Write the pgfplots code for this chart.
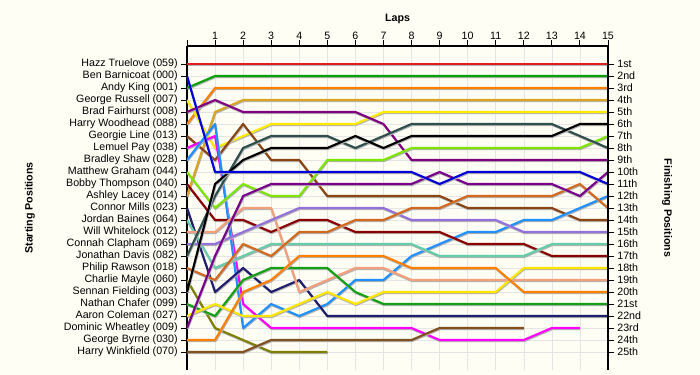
\documentclass[border=0pt]{standalone}
\usepackage{pgfplots}
\pgfplotsset{compat=1.18}
\usepackage{fontspec}
\setmainfont{Liberation Sans}
\definecolor{bg}{RGB}{254,254,244}
\definecolor{cRed}{RGB}{228,30,30}
\definecolor{cBlue}{RGB}{0,0,215}
\definecolor{cGreen}{RGB}{10,160,10}
\definecolor{cYellow}{RGB}{255,235,0}
\definecolor{cPurple}{RGB}{128,0,128}
\definecolor{cOrange}{RGB}{255,128,0}
\definecolor{cBrown}{RGB}{139,69,19}
\definecolor{cMagenta}{RGB}{255,0,255}
\definecolor{cDodger}{RGB}{30,144,255}
\definecolor{cLime}{RGB}{124,230,0}
\definecolor{cDarkRed}{RGB}{139,0,0}
\definecolor{cGold}{RGB}{218,165,32}
\definecolor{cNavy}{RGB}{30,30,110}
\definecolor{cAqua}{RGB}{102,205,170}
\definecolor{cSalmon}{RGB}{245,160,125}
\definecolor{cMPurple}{RGB}{147,112,219}
\definecolor{cSlate}{RGB}{47,79,79}
\definecolor{cChoc}{RGB}{210,105,30}
\definecolor{cOlive}{RGB}{128,128,0}
\definecolor{cBlack}{RGB}{0,0,0}
\definecolor{cGreenB}{RGB}{20,160,20}
\definecolor{cYellowB}{RGB}{255,230,0}
\definecolor{cViolet}{RGB}{120,0,140}
\definecolor{cDOrange}{RGB}{255,127,0}
\definecolor{cBrownB}{RGB}{128,80,30}
\begin{document}
\begin{tikzpicture}[font=\fontsize{8}{9.6}\selectfont]
\path[use as bounding box, fill=bg] (-140.25pt,-3.75pt) rectangle (384.75pt,277.5pt);
\node[font=\fontsize{8}{9.6}\selectfont\bfseries] at (157.9pt,263pt) {Laps};
\node[font=\fontsize{8}{9.6}\selectfont\bfseries, rotate=90] at (-117.75pt,121.5pt) {Starting Positions};
\node[font=\fontsize{8}{9.6}\selectfont\bfseries, rotate=-90] at (360pt,121.5pt) {Finishing Positions};
\begin{axis}[
  at={(0,0)}, anchor=south west,
  scale only axis, width=315.75pt, height=243pt,
  xmin=0, xmax=15, ymin=-0.5, ymax=26.5, y dir=reverse,
  axis x line*=top, axis y line*=left,
  axis line style={-, line width=0.9pt},
  xtick={0,...,15}, xticklabels={,1,2,3,4,5,6,7,8,9,10,11,12,13,14,15},
  ytick={1,...,25},
  yticklabels={Hazz Truelove (059),Ben Barnicoat (000),Andy King (001),George Russell (007),Brad Fairhurst (008),Harry Woodhead (088),Georgie Line (013),Lemuel Pay (038),Bradley Shaw (028),Matthew Graham (044),Bobby Thompson (040),Ashley Lacey (014),Connor Mills (023),Jordan Baines (064),Will Whitelock (012),Connah Clapham (069),Jonathan Davis (082),Philip Rawson (018),Charlie Mayle (060),Sennan Fielding (003),Nathan Chafer (099),Aaron Coleman (027),Dominic Wheatley (009),George Byrne (030),Harry Winkfield (070)},
  tick align=outside, major tick length=4.5pt,
  tick style={black, line width=0.7pt},
  ticklabel style={font=\fontsize{8}{9.6}\selectfont},
  xticklabel style={yshift=-3.5pt},
  yticklabel style={xshift=1pt},
  grid=major, grid style={black!10, line width=0.4pt},
  no markers,
  every axis plot/.append style={line width=1.6pt, line join=round,
    preaction={draw=black!30, line width=1.6pt, transform canvas={xshift=0.4pt,yshift=-0.8pt}}},
]
\addplot[cRed] coordinates {(0,1)(1,1)(2,1)(3,1)(4,1)(5,1)(6,1)(7,1)(8,1)(9,1)(10,1)(11,1)(12,1)(13,1)(14,1)(15,1)};
\addplot[cGreen] coordinates {(0,3)(1,2)(2,2)(3,2)(4,2)(5,2)(6,2)(7,2)(8,2)(9,2)(10,2)(11,2)(12,2)(13,2)(14,2)(15,2)};
\addplot[cOrange] coordinates {(0,6)(1,3)(2,3)(3,3)(4,3)(5,3)(6,3)(7,3)(8,3)(9,3)(10,3)(11,3)(12,3)(13,3)(14,3)(15,3)};
\addplot[cGold] coordinates {(0,12)(1,5)(2,4)(3,4)(4,4)(5,4)(6,4)(7,4)(8,4)(9,4)(10,4)(11,4)(12,4)(13,4)(14,4)(15,4)};
\addplot[cYellow] coordinates {(0,4)(1,8)(2,7)(3,6)(4,6)(5,6)(6,6)(7,5)(8,5)(9,5)(10,5)(11,5)(12,5)(13,5)(14,5)(15,5)};
\addplot[cPurple] coordinates {(0,5)(1,4)(2,5)(3,5)(4,5)(5,5)(6,5)(7,6)(8,9)(9,9)(10,9)(11,9)(12,9)(13,9)(14,9)(15,9)};
\addplot[cBrown] coordinates {(0,7)(1,9)(2,6)(3,9)(4,9)(5,12)(6,12)(7,12)(8,12)(9,12)(10,13)(11,13)(12,13)(13,13)(14,14)(15,14)};
\addplot[cMagenta] coordinates {(0,8)(1,7)(2,21)(3,23)(4,23)(5,23)(6,23)(7,23)(8,23)(9,24)(10,24)(11,24)(12,24)(13,23)(14,23)};
\addplot[cDodger] coordinates {(0,9)(1,6)(2,23)(3,21)(4,22)(5,21)(6,19)(7,19)(8,17)(9,16)(10,15)(11,15)(12,14)(13,14)(14,13)(15,12)};
\addplot[cLime] coordinates {(0,10)(1,13)(2,11)(3,12)(4,12)(5,9)(6,9)(7,9)(8,8)(9,8)(10,8)(11,8)(12,8)(13,8)(14,8)(15,7)};
\addplot[cDarkRed] coordinates {(0,11)(1,14)(2,14)(3,15)(4,14)(5,14)(6,15)(7,15)(8,15)(9,15)(10,16)(11,16)(12,16)(13,17)(14,17)(15,17)};
\addplot[cNavy] coordinates {(0,13)(1,20)(2,18)(3,20)(4,19)(5,22)(6,22)(7,22)(8,22)(9,22)(10,22)(11,22)(12,22)(13,22)(14,22)(15,22)};
\addplot[cAqua] coordinates {(0,14)(1,18)(2,17)(3,16)(4,16)(5,16)(6,16)(7,16)(8,16)(9,17)(10,17)(11,17)(12,17)(13,16)(14,16)(15,16)};
\addplot[cSalmon] coordinates {(0,15)(1,15)(2,13)(3,13)(4,20)(5,19)(6,18)(7,18)(8,19)(9,19)(10,19)(11,19)(12,19)(13,19)(14,19)(15,19)};
\addplot[cMPurple] coordinates {(0,16)(1,16)(2,15)(3,14)(4,13)(5,13)(6,13)(7,13)(8,14)(9,14)(10,14)(11,14)(12,15)(13,15)(14,15)(15,15)};
\addplot[cSlate] coordinates {(0,17)(1,12)(2,8)(3,7)(4,7)(5,7)(6,8)(7,7)(8,6)(9,6)(10,6)(11,6)(12,6)(13,6)(14,7)(15,8)};
\addplot[cChoc] coordinates {(0,18)(1,19)(2,16)(3,17)(4,15)(5,15)(6,14)(7,14)(8,13)(9,13)(10,12)(11,12)(12,12)(13,12)(14,11)(15,13)};
\addplot[cOlive] coordinates {(0,19)(1,23)(2,24)(3,25)(4,25)(5,25)};
\addplot[cBlack] coordinates {(0,20)(1,11)(2,9)(3,8)(4,8)(5,8)(6,7)(7,8)(8,7)(9,7)(10,7)(11,7)(12,7)(13,7)(14,6)(15,6)};
\addplot[cGreenB] coordinates {(0,21)(1,22)(2,19)(3,18)(4,18)(5,18)(6,20)(7,21)(8,21)(9,21)(10,21)(11,21)(12,21)(13,21)(14,21)(15,21)};
\addplot[cYellowB] coordinates {(0,22)(1,21)(2,22)(3,22)(4,21)(5,20)(6,21)(7,20)(8,20)(9,20)(10,20)(11,20)(12,18)(13,18)(14,18)(15,18)};
\addplot[cViolet] coordinates {(0,23)(1,17)(2,12)(3,11)(4,11)(5,11)(6,11)(7,11)(8,11)(9,10)(10,11)(11,11)(12,11)(13,11)(14,12)(15,10)};
\addplot[cDOrange] coordinates {(0,24)(1,24)(2,20)(3,19)(4,17)(5,17)(6,17)(7,17)(8,18)(9,18)(10,18)(11,18)(12,20)(13,20)(14,20)(15,20)};
\addplot[cBrownB] coordinates {(0,25)(1,25)(2,25)(3,24)(4,24)(5,24)(6,24)(7,24)(8,24)(9,23)(10,23)(11,23)(12,23)};
\addplot[cBlue] coordinates {(0,2)(1,10)(2,10)(3,10)(4,10)(5,10)(6,10)(7,10)(8,10)(9,11)(10,10)(11,10)(12,10)(13,10)(14,10)(15,11)};
\end{axis}
\begin{axis}[
  at={(0,0)}, anchor=south west,
  scale only axis, width=315.75pt, height=243pt,
  xmin=0, xmax=15, ymin=-0.5, ymax=26.5, y dir=reverse,
  axis y line*=right, axis x line=none,
  axis line style={-, line width=0.9pt},
  ytick={1,...,25},
  yticklabels={1st,2nd,3rd,4th,5th,6th,7th,8th,9th,10th,11th,12th,13th,14th,15th,16th,17th,18th,19th,20th,21st,22nd,23rd,24th,25th},
  tick align=outside, major tick length=4.5pt,
  tick style={black, line width=0.7pt},
  ticklabel style={font=\fontsize{8}{9.6}\selectfont},
  yticklabel style={xshift=-1pt},
]
\addplot[draw=none] coordinates {(0,1)};
\end{axis}
\end{tikzpicture}
\end{document}
